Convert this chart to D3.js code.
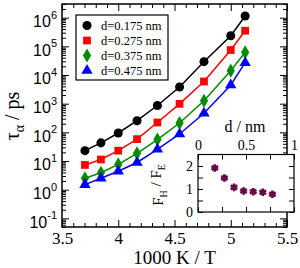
<!DOCTYPE html>
<html>
<head>
<meta charset="utf-8">
<script src="https://cdn.jsdelivr.net/npm/d3@7"></script>
<style>
  body { margin: 0; background: #fff; }
  svg { display: block; font-family: "Liberation Serif", "DejaVu Serif", serif; }
</style>
</head>
<body>
<div id="chart"></div>
<script>
// Data
const invTemp = [3.704, 3.846, 4.0, 4.167, 4.348, 4.545, 4.762, 5.0, 5.128];
const tau0175 = [23, 43, 95, 255, 865, 3820, 29200, 235000, 1150000];
const tau0275 = [7.3, 11.3, 23, 58, 221, 990, 5940, 74600, 351000];
const tau0375 = [2.5, 3.9, 7.6, 18.6, 56, 212, 1270, 14200, 62000];
const tau0475 = [1.5, 2.5, 4.4, 8.9, 25.7, 88, 462, 4490, 26900];
const seriesNames = ["d=0.175 nm", "d=0.275 nm", "d=0.375 nm", "d=0.475 nm"];
const xTickValues = [3.5, 4, 4.5, 5, 5.5];
const yDecades = [-1, 0, 1, 2, 3, 4, 5, 6];

const insetD = [0.175, 0.275, 0.375, 0.475, 0.575, 0.675, 0.775];
const insetRatio = [1.91, 1.48, 1.07, 0.91, 0.88, 0.86, 0.77];
const insetXTicks = [0, 0.5, 1];
const insetYTicks = [0, 1, 2];

const series = [tau0175, tau0275, tau0375, tau0475].map((vals, i) => ({
  name: seriesNames[i],
  values: vals.map((v, j) => ({ x: invTemp[j], y: v })),
}));

// Dimensions
const width = 300;
const height = 268;
const margin = { top: 4, right: 13, bottom: 41, left: 62 };

const colors = ["#000000", "#ff0000", "#008b00", "#0000ff"];
const symbols = [d3.symbolCircle, d3.symbolSquare, d3.symbolDiamond, d3.symbolTriangle];
const symbolSizes = [64, 60, 58, 56];

const svg = d3
  .select("#chart")
  .append("svg")
  .attr("width", width)
  .attr("height", height);

// Scales
const xScale = d3
  .scaleLinear()
  .domain([3.5, 5.5])
  .range([margin.left, width - margin.right]);

const yScale = d3
  .scaleLog()
  .domain([0.05, 3e6])
  .range([height - margin.bottom, margin.top]);

// Tick sets
const xMinor = d3.range(35, 56).map((d) => d / 10).filter((d) => !xTickValues.includes(d));
const yMajor = yDecades.map((d) => Math.pow(10, d));
const yMinor = [];
for (let e = -2; e <= 6; e++) {
  for (let k = 2; k <= 9; k++) {
    const v = k * Math.pow(10, e);
    if (v >= 0.05 && v <= 3e6) yMinor.push(v);
  }
}

const x0 = margin.left, x1 = width - margin.right;
const y0 = height - margin.bottom, y1 = margin.top;
const major = 7, minor = 4;

function styleAxis(g) {
  g.select(".domain").remove();
  g.selectAll(".tick line").attr("stroke", "#000").attr("stroke-width", 1);
}

// Bottom / top x ticks
svg.append("g").attr("transform", `translate(0,${y0})`)
  .call(d3.axisBottom(xScale).tickValues(xMinor).tickSize(-minor).tickFormat(""))
  .call(styleAxis);
const xAxisG = svg.append("g").attr("transform", `translate(0,${y0})`)
  .call(d3.axisBottom(xScale).tickValues(xTickValues).tickSize(-major).tickPadding(5).tickFormat((d) => d))
  .call(styleAxis);
xAxisG.selectAll("text").attr("font-size", 17).attr("fill", "#000")
  .attr("font-family", "Liberation Serif, serif");
svg.append("g").attr("transform", `translate(0,${y1})`)
  .call(d3.axisTop(xScale).tickValues(xMinor).tickSize(-minor).tickFormat(""))
  .call(styleAxis);
svg.append("g").attr("transform", `translate(0,${y1})`)
  .call(d3.axisTop(xScale).tickValues(xTickValues).tickSize(-major).tickFormat(""))
  .call(styleAxis);

// Left / right y ticks
svg.append("g").attr("transform", `translate(${x0},0)`)
  .call(d3.axisLeft(yScale).tickValues(yMinor).tickSize(-minor).tickFormat(""))
  .call(styleAxis);
const yAxisG = svg.append("g").attr("transform", `translate(${x0},0)`)
  .call(d3.axisLeft(yScale).tickValues(yMajor).tickSize(-major).tickPadding(5).tickFormat(""))
  .call(styleAxis);
svg.append("g").attr("transform", `translate(${x1},0)`)
  .call(d3.axisRight(yScale).tickValues(yMinor).tickSize(-minor).tickFormat(""))
  .call(styleAxis);
svg.append("g").attr("transform", `translate(${x1},0)`)
  .call(d3.axisRight(yScale).tickValues(yMajor).tickSize(-major).tickFormat(""))
  .call(styleAxis);

// Y tick labels with exponents
yAxisG.selectAll(".tick text")
  .attr("font-size", 16)
  .attr("fill", "#000")
  .attr("dy", "0.55em")
  .each(function (d) {
    const t = d3.select(this);
    const e = Math.round(Math.log10(d));
    t.text(null);
    t.append("tspan").text("10");
    t.append("tspan").attr("font-size", 11).attr("dy", "-0.75em").text(e < 0 ? "-" + Math.abs(e) : e);
  });

// Frame
svg.append("rect")
  .attr("x", x0).attr("y", y1)
  .attr("width", x1 - x0).attr("height", y0 - y1)
  .attr("fill", "none").attr("stroke", "#000").attr("stroke-width", 1.5);

// Axis titles
svg.append("text")
  .attr("x", (x0 + x1) / 2).attr("y", 264)
  .attr("text-anchor", "middle").attr("font-size", 19)
  .text("1000 K / T");

const yTitle = svg.append("text")
  .attr("transform", "translate(19,116) rotate(-90)")
  .attr("text-anchor", "middle").attr("font-size", 20);
yTitle.append("tspan").text("τ");
yTitle.append("tspan").attr("font-size", 14).attr("dy", "0.35em").text("α");
yTitle.append("tspan").attr("dy", "-0.25em").text(" / ps");

// Lines and markers
const line = d3.line().x((d) => xScale(d.x)).y((d) => yScale(d.y));
const seriesG = svg.append("g").selectAll("g").data(series).join("g");
seriesG.append("path")
  .attr("fill", "none")
  .attr("stroke", (d, i) => colors[i])
  .attr("stroke-width", 1.5)
  .attr("d", (d) => line(d.values));
seriesG.each(function (s, i) {
  d3.select(this).selectAll("path.pt")
    .data(s.values)
    .join("path")
    .attr("class", "pt")
    .attr("fill", colors[i])
    .attr("transform", (d) => `translate(${xScale(d.x)},${yScale(d.y)})`)
    .attr("d", d3.symbol(symbols[i], symbolSizes[i]));
});

// Legend
const legend = svg.append("g");
legend.append("rect")
  .attr("x", 76).attr("y", 15).attr("width", 92).attr("height", 65)
  .attr("fill", "#fff").attr("stroke", "#000").attr("stroke-width", 1.2);
const legendItem = legend.selectAll("g.item").data(seriesNames).join("g")
  .attr("class", "item")
  .attr("transform", (d, i) => `translate(87,${25.5 + i * 15})`);
legendItem.append("path")
  .attr("fill", (d, i) => colors[i])
  .attr("d", (d, i) => d3.symbol(symbols[i], symbolSizes[i])());
legendItem.append("text")
  .attr("x", 14).attr("y", 4.5)
  .attr("font-size", 12.5)
  .text((d) => d);

// Inset
const inX = d3.scaleLinear().domain([0, 1]).range([198, 294]);
const inY = d3.scaleLinear().domain([0, 2.5]).range([212, 154.5]);
const inset = svg.append("g");
inset.append("rect")
  .attr("x", 198).attr("y", 154.5).attr("width", 96).attr("height", 57.5)
  .attr("fill", "#fff");
inset.append("g").attr("transform", "translate(0,154.5)")
  .call(d3.axisTop(inX).tickValues([0, 0.25, 0.5, 0.75, 1]).tickSize(-5).tickFormat(""))
  .call(styleAxis);
inset.append("g").attr("transform", "translate(0,212)")
  .call(d3.axisBottom(inX).tickValues([0, 0.25, 0.5, 0.75, 1]).tickSize(-5).tickFormat(""))
  .call(styleAxis);
inset.append("g").attr("transform", "translate(198,0)")
  .call(d3.axisLeft(inY).tickValues([0, 0.5, 1, 1.5, 2]).tickSize(-5).tickFormat(""))
  .call(styleAxis);
inset.append("g").attr("transform", "translate(294,0)")
  .call(d3.axisRight(inY).tickValues([0, 0.5, 1, 1.5, 2]).tickSize(-5).tickFormat(""))
  .call(styleAxis);
const inXLabels = inset.append("g").attr("transform", "translate(0,154.5)")
  .call(d3.axisTop(inX).tickValues(insetXTicks).tickSize(0).tickPadding(5).tickFormat((d) => d));
inXLabels.select(".domain").remove();
inXLabels.selectAll("text").attr("font-size", 14).attr("fill", "#000").attr("font-family", "Liberation Serif, serif");
const inYLabels = inset.append("g").attr("transform", "translate(198,0)")
  .call(d3.axisLeft(inY).tickValues(insetYTicks).tickSize(0).tickPadding(5).tickFormat((d) => d));
inYLabels.select(".domain").remove();
inYLabels.selectAll("text").attr("font-size", 14).attr("fill", "#000").attr("font-family", "Liberation Serif, serif");
inset.append("rect")
  .attr("x", 198).attr("y", 154.5).attr("width", 96).attr("height", 57.5)
  .attr("fill", "none").attr("stroke", "#000").attr("stroke-width", 1.2);

inset.append("text")
  .attr("x", 245).attr("y", 132)
  .attr("text-anchor", "middle").attr("font-size", 16)
  .text("d / nm");

const inTitle = inset.append("text")
  .attr("transform", "translate(163,185) rotate(-90)")
  .attr("text-anchor", "middle").attr("font-size", 15);
inTitle.append("tspan").text("F");
inTitle.append("tspan").attr("font-size", 10).attr("dy", "0.35em").text("H");
inTitle.append("tspan").attr("dy", "-0.35em").text(" / F");
inTitle.append("tspan").attr("font-size", 10).attr("dy", "0.35em").text("E");

inset.selectAll("path.star")
  .data(insetD.map((d, i) => ({ x: d, y: insetRatio[i] })))
  .join("path")
  .attr("class", "star")
  .attr("transform", (d) => `translate(${inX(d.x)},${inY(d.y)})`)
  .attr("d", d3.symbol(d3.symbolAsterisk, 40))
  .attr("fill", "none")
  .attr("stroke", "#670748")
  .attr("stroke-width", 2.6);
</script>
</body>
</html>
